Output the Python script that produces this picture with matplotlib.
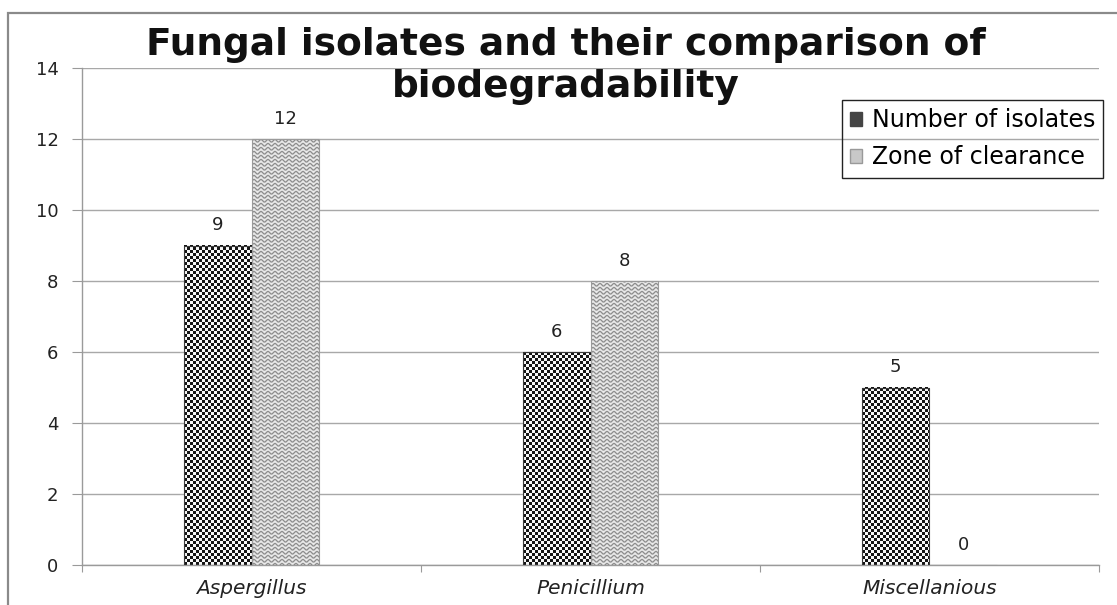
import numpy as np
import matplotlib
matplotlib.use("Agg")
import matplotlib.pyplot as plt
from matplotlib.patches import Rectangle, Patch

# ----------------------------------------------------------------------
#  Data
# ----------------------------------------------------------------------
categories = ["Aspergillus", "Penicillium", "Miscellanious"]
number_of_isolates = [9, 6, 5]
zone_of_clearance = [12, 8, 0]
series_labels = ["Number of isolates", "Zone of clearance"]
y_ticks = [0, 2, 4, 6, 8, 10, 12, 14]

W, H, DPI = 1117, 605, 100
PX_PER_UNIT = 35.5
BAR_W = 0.2


def checker_texture(w_px, h_px, cell=3):
    """Black/white checkerboard, one pixel per array cell."""
    nx = max(int(round(w_px)), 1)
    ny = max(int(round(h_px)), 1)
    yy, xx = np.mgrid[0:ny, 0:nx]
    c = ((xx // cell) + (yy // cell)) % 2
    return np.where(c == 0, 0.08, 0.97)


def wave_texture(w_px, h_px, period=7.0, amp=1.2, spacing=4.0, scale=2):
    """Light grey background with thin wavy grey lines."""
    nx = max(int(round(w_px * scale)), 1)
    ny = max(int(round(h_px * scale)), 1)
    yy, xx = np.mgrid[0:ny, 0:nx] / scale
    phase = yy - amp * np.sin(2 * np.pi * xx / period)
    d = np.abs(((phase + spacing / 2) % spacing) - spacing / 2)
    return np.where(d < 0.6, 0.45, 0.92)


fig = plt.figure(figsize=(W / DPI, H / DPI), dpi=DPI)
fig.patch.set_facecolor("white")

# outer chart border (cut off on the right and bottom as in the picture)
fig.patches.append(Rectangle((8 / W, -0.05), 1.2, (H - 13) / H + 0.05,
                             transform=fig.transFigure, fill=False,
                             edgecolor="#8a8a8a", lw=1.6))

ax = fig.add_axes([82 / W, (H - 565) / H, (1099 - 82) / W, (565 - 68) / H])

x = np.arange(len(categories))
bars_num = ax.bar(x - BAR_W / 2, number_of_isolates, BAR_W, facecolor="none",
                  edgecolor="#3a3a3a", lw=0.8, zorder=3)
bars_zone = ax.bar(x + BAR_W / 2, zone_of_clearance, BAR_W, facecolor="none",
                   edgecolor="#9a9a9a", lw=0.8, zorder=3)

px_per_x = (1099 - 82) / len(categories)

for bar in bars_num:
    h = bar.get_height()
    if h <= 0:
        continue
    x0, w = bar.get_x(), bar.get_width()
    img = checker_texture(w * px_per_x, h * PX_PER_UNIT)
    ax.imshow(img, cmap="gray", vmin=0, vmax=1, extent=(x0, x0 + w, 0, h),
              aspect="auto", interpolation="nearest", zorder=2, origin="lower")

for bar in bars_zone:
    h = bar.get_height()
    if h <= 0:
        continue
    x0, w = bar.get_x(), bar.get_width()
    img = wave_texture(w * px_per_x, h * PX_PER_UNIT)
    ax.imshow(img, cmap="gray", vmin=0, vmax=1, extent=(x0, x0 + w, 0, h),
              aspect="auto", interpolation="bilinear", zorder=2, origin="lower")

ax.set_xlim(-0.5, len(categories) - 0.5)
ax.set_ylim(0, 14)
ax.set_aspect("auto")

# value labels
for bars, vals in [(bars_num, number_of_isolates), (bars_zone, zone_of_clearance)]:
    for bar, v in zip(bars, vals):
        ax.annotate(str(v), (bar.get_x() + bar.get_width() / 2, v),
                    xytext=(0, 8), textcoords="offset points", ha="center",
                    va="bottom", fontsize=13, color="#222222")

# axes styling
ax.set_yticks(y_ticks)
ax.set_yticklabels([str(t) for t in y_ticks], fontsize=13, color="#222222")
ax.yaxis.grid(True, color="#a8a8a8", lw=1.0)
ax.set_axisbelow(True)
ax.tick_params(axis="y", length=7, color="#9a9a9a", pad=10)

ax.set_xticks(np.arange(-0.5, len(categories)), minor=False)
ax.set_xticklabels([])
ax.set_xticks(x, minor=True)
ax.set_xticklabels(categories, minor=True, fontsize=14.5, style="italic",
                   color="#222222")
ax.tick_params(axis="x", which="major", length=5, color="#9a9a9a", direction="out")
ax.tick_params(axis="x", which="minor", length=0, pad=10)

for side in ["top", "right"]:
    ax.spines[side].set_visible(False)
for side in ["left", "bottom"]:
    ax.spines[side].set_color("#9a9a9a")
    ax.spines[side].set_linewidth(1.0)

# title, two wrapped lines centred in the chart area
fig.text(566 / W, 1 - 45 / H, "Fungal isolates and their comparison of",
         ha="center", va="center", fontsize=27, fontweight="bold",
         color="#111111")
fig.text(566 / W, 1 - 87 / H, "biodegradability",
         ha="center", va="center", fontsize=27, fontweight="bold",
         color="#111111")

# legend
handles = [Patch(facecolor="#444444", edgecolor="#444444"),
           Patch(facecolor="#c8c8c8", edgecolor="#999999")]
leg = ax.legend(handles, series_labels, loc="upper left",
                bbox_to_anchor=((842 - 82) / (1099 - 82), (565 - 100) / (565 - 68)),
                fontsize=17, frameon=True, fancybox=False, framealpha=1,
                handlelength=0.5, handleheight=0.5, handletextpad=0.4,
                labelspacing=0.55, borderpad=0.35, borderaxespad=0)
leg.get_frame().set_edgecolor("#222222")
leg.get_frame().set_facecolor("none")
leg.get_frame().set_linewidth(1.0)

plt.savefig("out.png", dpi=DPI)
